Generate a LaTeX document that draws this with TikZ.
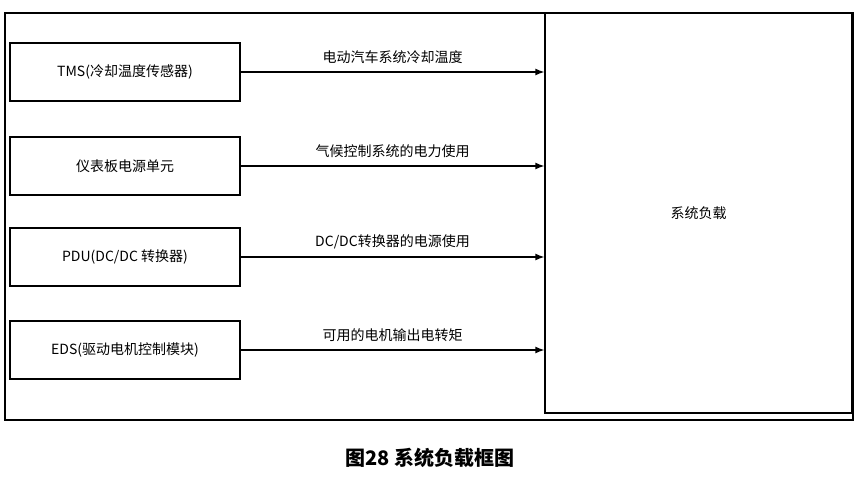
\documentclass[tikz,border=0pt]{standalone}
\usepackage{fontspec}
\setmainfont{Noto Sans CJK SC}
\usepackage{tikz}
\usetikzlibrary{calc, arrows.meta}
\tikzstyle{arrow} = [line width=1.3pt,-{Latex[length=9pt,width=7pt]}]
\tikzstyle{unitbox} = [draw,line width=1.3pt,minimum width=230pt,minimum height=58pt,font=\fontsize{14}{16}\selectfont]
\begin{document}
\begin{tikzpicture}[x=1pt,y=-1pt]
  \useasboundingbox (0,0) rectangle (860,482);
  %outer frame
  \draw[line width=1.1pt] (5,13) rectangle (853,420);
  %system load block
  \node[draw,line width=1.3pt,minimum width=307pt,minimum height=400pt,font=\fontsize{14}{16}\selectfont] (load) at (698.5,213) {系统负载};

  %put the source blocks on the left
  \node[unitbox] (tms) at (125,72) {TMS(冷却温度传感器)};
  \node[unitbox] (dash) at (125,166) {仪表板电源单元};
  \node[unitbox] (pdu) at (125,257) {PDU(DC/DC 转换器)};
  \node[unitbox] (eds) at (125,350) {EDS(驱动电机控制模块)};

  \foreach \n/\t in {tms/{电动汽车系统冷却温度}, dash/{气候控制系统的电力使用}, pdu/{DC/DC转换器的电源使用}, eds/{可用的电机输出电转矩}}{
    \draw[arrow] (\n.east) -- (\n.east -| load.west)
      node[midway,above=4pt,font=\fontsize{14}{16}\selectfont] {\t};
  }

  \node[font=\fontsize{20}{24}\selectfont\bfseries] (cap) at (430,458) {图28 系统负载框图};
\end{tikzpicture}
\end{document}
